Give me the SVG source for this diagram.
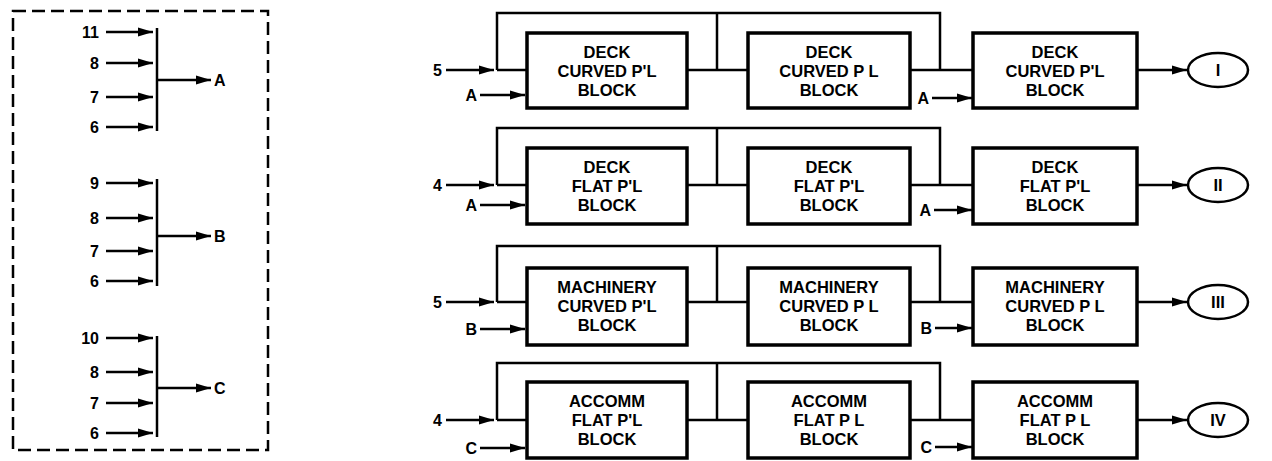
<svg xmlns="http://www.w3.org/2000/svg" width="1272" height="461" viewBox="0 0 1272 461">
<defs>
<marker id="ah" markerUnits="userSpaceOnUse" markerWidth="18" markerHeight="12" refX="15" refY="6" orient="auto">
<path d="M0,1.5 L15,6 L0,10.5 Z" fill="#000"/>
</marker>
<style>
.ln{fill:none;stroke:#000;stroke-width:2.5}
.ar{fill:none;stroke:#000;stroke-width:2.5;marker-end:url(#ah)}
.bar{fill:none;stroke:#000;stroke-width:2.5}
.box{fill:#fff;stroke:#000;stroke-width:3.5}
.ell{fill:#fff;stroke:#000;stroke-width:2.5}
.t{font-family:"Liberation Sans",Arial,sans-serif;font-weight:bold;font-size:16.5px;fill:#000;text-anchor:middle}
.l{font-family:"Liberation Sans",Arial,sans-serif;font-weight:bold;font-size:16px;fill:#000;text-anchor:end}
.s{font-family:"Liberation Sans",Arial,sans-serif;font-weight:bold;font-size:16px;fill:#000;text-anchor:start}
.dash{fill:none;stroke:#000;stroke-width:2.5;stroke-dasharray:13 6}
</style>
</defs>
<rect width="1272" height="461" fill="#fff"/>

<!-- Left panel -->
<g id="legend">
<rect class="dash" x="13" y="11" width="255" height="439"/>
</g>
<g id="groupA">
<text class="l" x="99" y="38">11</text>
<text class="l" x="99" y="69">8</text>
<text class="l" x="99" y="103">7</text>
<text class="l" x="99" y="133">6</text>
<line class="bar" x1="157" y1="28" x2="157" y2="131"/>
<text class="s" x="214" y="86">A</text>
</g>
<g id="groupB">
<text class="l" x="99" y="189">9</text>
<text class="l" x="99" y="224">8</text>
<text class="l" x="99" y="257">7</text>
<text class="l" x="99" y="287">6</text>
<line class="bar" x1="157" y1="179" x2="157" y2="286"/>
<text class="s" x="214" y="242">B</text>
</g>
<g id="groupC">
<text class="l" x="99" y="344">10</text>
<text class="l" x="99" y="378">8</text>
<text class="l" x="99" y="409">7</text>
<text class="l" x="99" y="439">6</text>
<line class="bar" x1="157" y1="336" x2="157" y2="437"/>
<text class="s" x="214" y="394">C</text>
</g>

<!-- Row nodes -->
<g id="r1b1"><rect class="box" x="527" y="33" width="160" height="75"/><text class="t" x="607" y="58">DECK</text><text class="t" x="607" y="77">CURVED P'L</text><text class="t" x="607" y="96">BLOCK</text></g>
<g id="r1b2"><rect class="box" x="748" y="33" width="162" height="75"/><text class="t" x="829" y="58">DECK</text><text class="t" x="829" y="77">CURVED P L</text><text class="t" x="829" y="96">BLOCK</text></g>
<g id="r1b3"><rect class="box" x="973" y="33" width="164" height="75"/><text class="t" x="1055" y="58">DECK</text><text class="t" x="1055" y="77">CURVED P'L</text><text class="t" x="1055" y="96">BLOCK</text></g>
<g id="r1out"><ellipse class="ell" cx="1218" cy="70" rx="30" ry="17"/><text class="t" x="1218" y="76">I</text></g>

<g id="r2b1"><rect class="box" x="527" y="148" width="160" height="76"/><text class="t" x="607" y="173">DECK</text><text class="t" x="607" y="192">FLAT P'L</text><text class="t" x="607" y="211">BLOCK</text></g>
<g id="r2b2"><rect class="box" x="748" y="148" width="162" height="76"/><text class="t" x="829" y="173">DECK</text><text class="t" x="829" y="192">FLAT P'L</text><text class="t" x="829" y="211">BLOCK</text></g>
<g id="r2b3"><rect class="box" x="973" y="148" width="164" height="76"/><text class="t" x="1055" y="173">DECK</text><text class="t" x="1055" y="192">FLAT P'L</text><text class="t" x="1055" y="211">BLOCK</text></g>
<g id="r2out"><ellipse class="ell" cx="1218" cy="185" rx="30" ry="17"/><text class="t" x="1218" y="191">II</text></g>

<g id="r3b1"><rect class="box" x="527" y="268" width="160" height="77"/><text class="t" x="607" y="293">MACHINERY</text><text class="t" x="607" y="312">CURVED P'L</text><text class="t" x="607" y="331">BLOCK</text></g>
<g id="r3b2"><rect class="box" x="748" y="268" width="162" height="77"/><text class="t" x="829" y="293">MACHINERY</text><text class="t" x="829" y="312">CURVED P L</text><text class="t" x="829" y="331">BLOCK</text></g>
<g id="r3b3"><rect class="box" x="973" y="268" width="164" height="77"/><text class="t" x="1055" y="293">MACHINERY</text><text class="t" x="1055" y="312">CURVED P L</text><text class="t" x="1055" y="331">BLOCK</text></g>
<g id="r3out"><ellipse class="ell" cx="1218" cy="302" rx="30" ry="17"/><text class="t" x="1218" y="308">III</text></g>

<g id="r4b1"><rect class="box" x="527" y="382" width="160" height="76"/><text class="t" x="607" y="407">ACCOMM</text><text class="t" x="607" y="426">FLAT P'L</text><text class="t" x="607" y="445">BLOCK</text></g>
<g id="r4b2"><rect class="box" x="748" y="382" width="162" height="76"/><text class="t" x="829" y="407">ACCOMM</text><text class="t" x="829" y="426">FLAT P L</text><text class="t" x="829" y="445">BLOCK</text></g>
<g id="r4b3"><rect class="box" x="973" y="382" width="164" height="76"/><text class="t" x="1055" y="407">ACCOMM</text><text class="t" x="1055" y="426">FLAT P L</text><text class="t" x="1055" y="445">BLOCK</text></g>
<g id="r4out"><ellipse class="ell" cx="1218" cy="420" rx="30" ry="17"/><text class="t" x="1218" y="426">IV</text></g>

<!-- Input labels -->
<g id="inputs">
<text class="l" x="442" y="76">5</text><text class="l" x="477" y="101">A</text><text class="l" x="929" y="104">A</text>
<text class="l" x="442" y="191">4</text><text class="l" x="477" y="211">A</text><text class="l" x="931" y="216">A</text>
<text class="l" x="442" y="308">5</text><text class="l" x="477" y="335">B</text><text class="l" x="932" y="334">B</text>
<text class="l" x="442" y="426">4</text><text class="l" x="477" y="454">C</text><text class="l" x="932" y="453">C</text>
</g>

<!-- Connectors -->
<g id="connectors">
<line class="ar" x1="106" y1="32" x2="153" y2="32"/>
<line class="ar" x1="106" y1="63" x2="153" y2="63"/>
<line class="ar" x1="106" y1="97" x2="153" y2="97"/>
<line class="ar" x1="106" y1="127" x2="153" y2="127"/>
<line class="ar" x1="157" y1="80" x2="211" y2="80"/>

<line class="ar" x1="106" y1="183" x2="153" y2="183"/>
<line class="ar" x1="106" y1="218" x2="153" y2="218"/>
<line class="ar" x1="106" y1="251" x2="153" y2="251"/>
<line class="ar" x1="106" y1="281" x2="153" y2="281"/>
<line class="ar" x1="157" y1="236" x2="211" y2="236"/>

<line class="ar" x1="106" y1="338" x2="153" y2="338"/>
<line class="ar" x1="106" y1="372" x2="153" y2="372"/>
<line class="ar" x1="106" y1="403" x2="153" y2="403"/>
<line class="ar" x1="106" y1="433" x2="153" y2="433"/>
<line class="ar" x1="157" y1="388" x2="211" y2="388"/>

<!-- Row 1 -->
<line class="ar" x1="446" y1="70" x2="494" y2="70"/>
<path class="ln" d="M497,70 H527 M497,70 V13 H940 V70 M687,70 H748 M717,13 V70 M910,70 H973"/>
<line class="ar" x1="480" y1="95" x2="525" y2="95"/>
<line class="ar" x1="932" y1="98" x2="972" y2="98"/>
<line class="ar" x1="1137" y1="70" x2="1187" y2="70"/>

<!-- Row 2 -->
<line class="ar" x1="446" y1="185" x2="494" y2="185"/>
<path class="ln" d="M497,185 H527 M497,185 V128 H940 V185 M687,185 H748 M717,128 V185 M910,185 H973"/>
<line class="ar" x1="480" y1="205" x2="525" y2="205"/>
<line class="ar" x1="934" y1="210" x2="972" y2="210"/>
<line class="ar" x1="1137" y1="185" x2="1187" y2="185"/>

<!-- Row 3 -->
<line class="ar" x1="446" y1="302" x2="494" y2="302"/>
<path class="ln" d="M497,302 H527 M497,302 V246 H940 V302 M687,302 H748 M717,246 V302 M910,302 H973"/>
<line class="ar" x1="480" y1="329" x2="525" y2="329"/>
<line class="ar" x1="935" y1="328" x2="972" y2="328"/>
<line class="ar" x1="1137" y1="302" x2="1187" y2="302"/>

<!-- Row 4 -->
<line class="ar" x1="446" y1="420" x2="494" y2="420"/>
<path class="ln" d="M497,420 H527 M497,420 V363 H940 V420 M687,420 H748 M717,363 V420 M910,420 H973"/>
<line class="ar" x1="480" y1="448" x2="525" y2="448"/>
<line class="ar" x1="935" y1="447" x2="972" y2="447"/>
<line class="ar" x1="1137" y1="420" x2="1187" y2="420"/>
</g>
</svg>
